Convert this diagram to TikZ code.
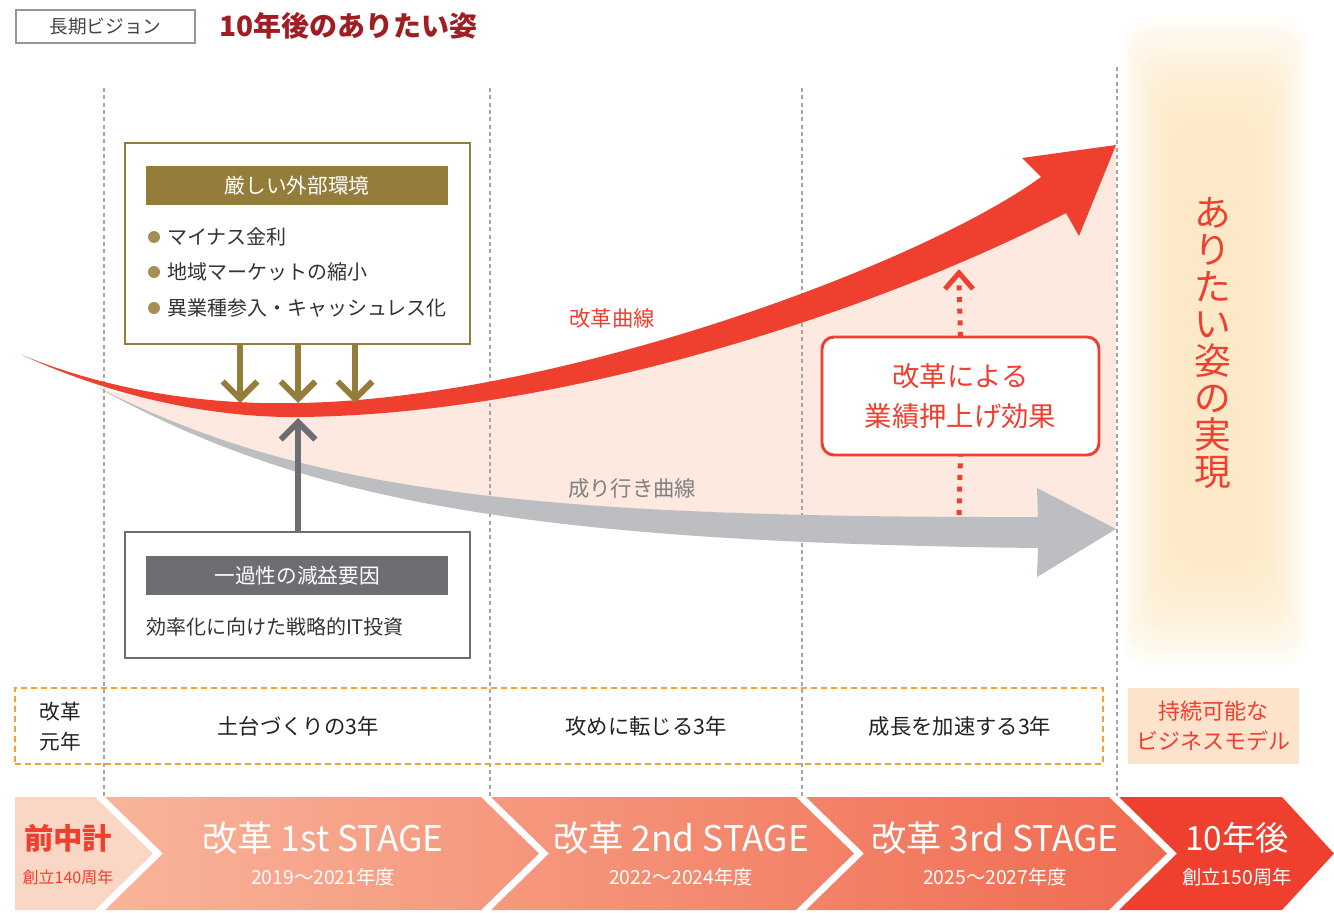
\documentclass[tikz,border=0pt]{standalone}
\usepackage{fontspec}
\setmainfont{Noto Sans CJK JP}
\usetikzlibrary{arrows.meta,fit,calc}
\definecolor{redc}{RGB}{238,63,47}
\definecolor{darkred}{RGB}{160,30,35}
\definecolor{olive}{RGB}{148,125,58}
\definecolor{bulletc}{RGB}{166,143,84}
\definecolor{grayc}{RGB}{109,110,113}
\definecolor{lightgray}{RGB}{189,190,193}
\definecolor{pinkfill}{RGB}{253,233,224}
\definecolor{orangec}{RGB}{246,160,52}
\definecolor{peach}{RGB}{253,226,204}
\definecolor{segA}{RGB}{250,214,196}
\definecolor{segL}{RGB}{248,180,154}
\definecolor{segR}{RGB}{240,106,80}
\definecolor{glowc}{RGB}{252,228,185}
\definecolor{textc}{RGB}{51,51,51}
\definecolor{rowtext}{RGB}{34,34,34}
\definecolor{dashc}{RGB}{165,165,165}
\definecolor{midgray}{RGB}{128,128,128}
\definecolor{hgray}{RGB}{150,150,150}
\definecolor{htextc}{RGB}{68,68,68}
\newcommand\fsz[2]{\fontsize{#1pt}{#2pt}\selectfont}
\tikzset{
  every node/.style={inner sep=0pt, outer sep=0pt},
  frame/.style={inner sep=0pt},
  vline/.style={dashc, line width=0.8pt, dash pattern=on 3pt off 2.5pt},
  olivearrow/.style={olive, line width=4.5pt, -{Straight Barb[length=13pt,width=26pt]}},
  grayarrow/.style={grayc, line width=4.5pt, -{Straight Barb[length=13pt,width=26pt]}},
  dotline/.style={redc, line width=3.75pt, dash pattern=on 3.75pt off 5pt},
  bodytext/.style={text=textc, font=\fsz{15}{18}},
  rowlabel/.style={text=rowtext, font=\fsz{16}{19}},
  bartitle/.style={text=white, font=\fsz{26.5}{31}},
  barsub/.style={text=white, font=\fsz{14.5}{17}},
}
\begin{document}
\begin{tikzpicture}[x=0.75pt,y=-0.75pt]
\useasboundingbox (0,0) rectangle (1334,913);

% glow on the right
\foreach \i in {0,...,19} {
  \fill[glowc, opacity=0.08, rounded corners=20pt] ({1122+\i*3},{16+\i*6}) rectangle ({1308-\i*3},{666-\i*6});
}

% pink region between curves
\fill[pinkfill] (104,390) .. controls (180,404) and (240,410) .. (300,410)
  .. controls (560,406) and (910,283) .. (1050,195) -- (1116,145) -- (1116,529) -- (1038,548)
  .. controls (520,542) and (300,500) .. (95,386) -- cycle;

% dashed vertical lines
\draw[vline] (104,88) -- (104,796);
\draw[vline] (490,88) -- (490,796);
\draw[vline] (802,88) -- (802,796);
\draw[vline] (1117,67) -- (1117,796);

% gray curve (成り行き曲線)
\fill[lightgray] (95,386) .. controls (300,490) and (520,518) .. (1038,517)
  -- (1037,488) -- (1116,529) -- (1037,577) -- (1038,548)
  .. controls (520,542) and (300,500) .. (95,386) -- cycle;

% red curve (改革曲線)
\fill[redc] (22,355) .. controls (120,395) and (220,405) .. (300,403)
  .. controls (560,398) and (920,265) .. (1041,177)
  -- (1022,158) -- (1116,145) -- (1079,236) -- (1066,213)
  .. controls (900,300) and (580,414) .. (300,417)
  .. controls (220,418) and (120,400) .. (22,355) -- cycle;

% header
\node[frame, draw=hgray, line width=1.9pt, fit={(16,10) (195,43)}] (hbox) {};
\node[text=htextc, font=\fsz{14}{17}] (htext) at (hbox.center) {長期ビジョン};
\node[anchor=west, text=darkred, font=\bfseries\fsz{21}{25}] (title) at (219,26) {10年後のありたい姿};

% external environment box
\node[frame, draw=olive, line width=2.2pt, fill=white, fit={(125,143) (470,344)}] (env) {};
\node[fill=olive, text=white, minimum width=226.5pt, minimum height=29.25pt, font=\fsz{15.5}{18}] (envhead) at (297,185.5) {厳しい外部環境};
\foreach \y/\t [count=\k] in {237/マイナス金利, 272/地域マーケットの縮小, 308/異業種参入・キャッシュレス化} {
  \node[circle, fill=bulletc, minimum size=9pt] (dot\k) at (154,\y) {};
  \node[bodytext, anchor=west] (item\k) at (167,\y) {\t};
}
\coordinate (o1) at (240,403);
\coordinate (o2) at (298,403);
\coordinate (o3) at (355,403);
\draw[olivearrow] (env.south -| o1) -- (o1);
\draw[olivearrow] (env.south -| o2) -- (o2);
\draw[olivearrow] (env.south -| o3) -- (o3);

% one-off factors box
\node[frame, draw=grayc, line width=2.2pt, fill=white, fit={(125,532) (470,658)}] (oneoff) {};
\node[fill=grayc, text=white, minimum width=226.5pt, minimum height=29.25pt, font=\fsz{15.5}{18}] (oneoffhead) at (297,575.5) {一過性の減益要因};
\node[bodytext, anchor=west] (oneofftext) at (146,627) {効率化に向けた戦略的IT投資};
\coordinate (g1) at (298,418);
\draw[grayarrow] (oneoff.north -| g1) -- (g1);

% curve labels
\node[text=redc, font=\fsz{16}{19}] (redlabel) at (612,318) {改革曲線};
\node[text=midgray, font=\fsz{16}{19}] (graylabel) at (632,488) {成り行き曲線};

% effect box
\node[frame, draw=redc, line width=2.2pt, fill=white, rounded corners=9pt, fit={(822,337) (1099,455)}] (effect) {};
\node[text=redc, align=center, font=\fsz{20.5}{29.5}] (effecttext) at (effect.center) {改革による\\業績押上げ効果};
\coordinate (etop) at (959,273);
\coordinate (ebot) at (959,515);
\draw[dotline] (effect.north) -- ($(etop)+(0,12)$);
\draw[redc, line width=3.75pt] (945,289) -- (etop) -- (973,289);
\draw[dotline] (ebot) -- (effect.south);

% goal text
\node[text=redc, align=center, font=\fsz{27.5}{27.75}] (goal) at (1213,343) {あ\\り\\た\\い\\姿\\の\\実\\現};

% row of three-year phases
\node[frame, draw=orangec, line width=1.9pt, dash pattern=on 4.5pt off 3pt, fit={(15,688) (1103,764)}] (row) {};
\node[rowlabel, align=center, font=\fsz{15.5}{22.5}] (gannen) at (60,727) {改革\\元年};
\node[rowlabel] (p1) at (298,726) {土台づくりの3年};
\node[rowlabel] (p2) at (646,726) {攻めに転じる3年};
\node[rowlabel] (p3) at (960,726) {成長を加速する3年};
\node[frame, fill=peach, fit={(1128,688) (1299,764)}] (sust) {};
\node[text=redc, align=center, font=\fsz{16.5}{22}] (susttext) at (sust.center) {持続可能な\\ビジネスモデル};

% stage bar
\fill[segA] (15,797) -- (95,797) -- (153,853.5) -- (95,910) -- (15,910) -- cycle;
\shade[left color=segL, right color=segR]
  (105,797) -- (481,797) -- (539,853.5) -- (481,910) -- (105,910) -- (163,853.5) -- cycle
  (491,797) -- (796,797) -- (854,853.5) -- (796,910) -- (491,910) -- (549,853.5) -- cycle
  (806,797) -- (1109,797) -- (1167,853.5) -- (1109,910) -- (806,910) -- (864,853.5) -- cycle;
\fill[redc] (1119,797) -- (1282,797) -- (1334,853.5) -- (1282,910) -- (1119,910) -- (1177,853.5) -- cycle;

\node[text=redc, font=\bfseries\fsz{22}{26}] (prev) at (68,838) {前中計};
\node[text=redc, font=\fsz{12}{14}] (prevsub) at (68,877) {創立140周年};
\node[bartitle] (s1) at (323,838) {改革 1st STAGE};
\node[barsub] (s1sub) at (323,877) {2019〜2021年度};
\node[bartitle] (s2) at (681,838) {改革 2nd STAGE};
\node[barsub] (s2sub) at (681,877) {2022〜2024年度};
\node[bartitle] (s3) at (995,838) {改革 3rd STAGE};
\node[barsub] (s3sub) at (995,877) {2025〜2027年度};
\node[bartitle, font=\fsz{25}{30}] (s4) at (1237,838) {10年後};
\node[barsub] (s4sub) at (1237,877) {創立150周年};
\end{tikzpicture}
\end{document}
